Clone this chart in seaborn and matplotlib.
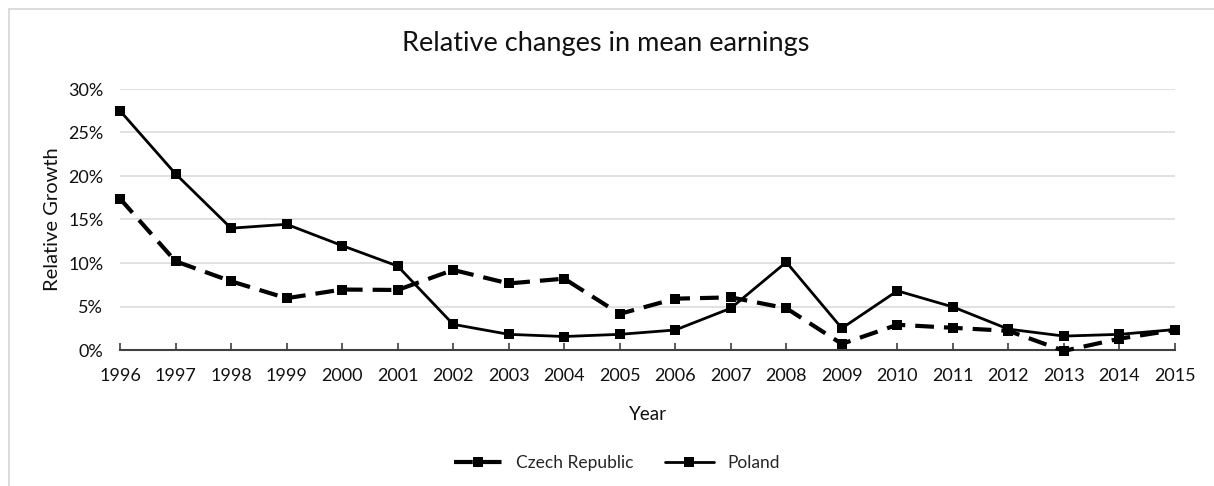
import matplotlib
matplotlib.use("Agg")
import matplotlib.pyplot as plt
import matplotlib.lines as mlines
from matplotlib.ticker import PercentFormatter
import seaborn as sns
import pandas as pd

years = list(range(1996, 2016))
czech = [17.4, 10.2, 7.9, 5.95, 6.95, 6.9, 9.2, 7.65, 8.2, 4.15, 5.9, 6.05, 4.8, 0.7,
         2.9, 2.55, 2.2, -0.1, 1.3, 2.3]
poland = [27.5, 20.25, 14.0, 14.45, 12.0, 9.65, 2.95, 1.8, 1.55, 1.8, 2.3, 4.8, 10.1, 2.5,
          6.8, 4.95, 2.4, 1.6, 1.8, 2.35]
series_names = ["Czech Republic", "Poland"]
yticks = [0, 5, 10, 15, 20, 25, 30]

df = pd.DataFrame({
    "Year": years * 2,
    "Value": czech + poland,
    "Country": [series_names[0]] * len(years) + [series_names[1]] * len(years),
})

sns.set_theme(style="white")
plt.rcParams["font.family"] = ["Lato", "DejaVu Sans"]

W, H = 1214, 486
fig = plt.figure(figsize=(W / 100, H / 100), dpi=100)
ax = fig.add_axes([120 / W, 1 - 350 / H, (1175 - 120) / W, (350 - 89) / H])

DASH = (4.5, 2.4)
sns.lineplot(
    data=df, x="Year", y="Value", hue="Country", style="Country",
    palette={"Czech Republic": "black", "Poland": "black"},
    dashes={"Czech Republic": DASH, "Poland": ""},
    markers={"Czech Republic": "s", "Poland": "s"},
    markersize=6.5, markeredgewidth=0, ax=ax, legend=False, clip_on=False,
)
for ln in ax.get_lines():
    ln.set_clip_on(False)
    ln.set_solid_capstyle("butt")
ax.lines[0].set_linewidth(3.0)
ax.lines[1].set_linewidth(2.0)

ax.set_xlim(1996, 2015)
ax.set_ylim(0, 30)
ax.set_yticks(yticks)
ax.yaxis.set_major_formatter(PercentFormatter(decimals=0))
ax.set_xticks(years)
ax.set_xticklabels([str(y) for y in years])

ax.grid(axis="y", color="#d9d9d9", linewidth=1.1)
ax.grid(axis="x", visible=False)
ax.set_axisbelow(True)
for s in ["top", "right", "left"]:
    ax.spines[s].set_visible(False)
ax.spines["bottom"].set_color("#404040")
ax.spines["bottom"].set_linewidth(1.5)
ax.spines["bottom"].set_zorder(1)

ax.tick_params(axis="x", which="major", direction="in", length=5, width=1.2,
               color="#404040", bottom=True, labelsize=13, pad=13, labelcolor="#111111")
ax.tick_params(axis="y", length=0, labelsize=13, pad=12, labelcolor="#111111")

ax.set_xlabel("Year", fontsize=13.5, color="#111111", labelpad=16)
ax.set_ylabel("Relative Growth", fontsize=14.5, color="#111111", labelpad=5)
fig.text(606 / W, 1 - 44 / H, "Relative changes in mean earnings", ha="center",
         va="center", fontsize=19.5, color="#111111")

h1 = mlines.Line2D([], [], color="black", linewidth=3.0, linestyle=(0, DASH),
                   marker="s", markersize=6.5, markeredgewidth=0)
h2 = mlines.Line2D([], [], color="black", linewidth=2.0, marker="s",
                   markersize=6.5, markeredgewidth=0)
fig.legend([h1, h2], series_names, loc="center", bbox_to_anchor=(617 / W, 1 - 463 / H),
           ncol=2, frameon=False, fontsize=12.5, handlelength=2.8, columnspacing=1.8,
           handletextpad=0.8)

# chart border (top and left visible)
fig.add_artist(mlines.Line2D([8.5 / W, 1], [1 - 9.5 / H, 1 - 9.5 / H],
                             transform=fig.transFigure, color="#d9d9d9", linewidth=1.3))
fig.add_artist(mlines.Line2D([8.5 / W, 8.5 / W], [0, 1 - 9.5 / H],
                             transform=fig.transFigure, color="#d9d9d9", linewidth=1.3))

fig.savefig("out.png", dpi=100, facecolor="white")
